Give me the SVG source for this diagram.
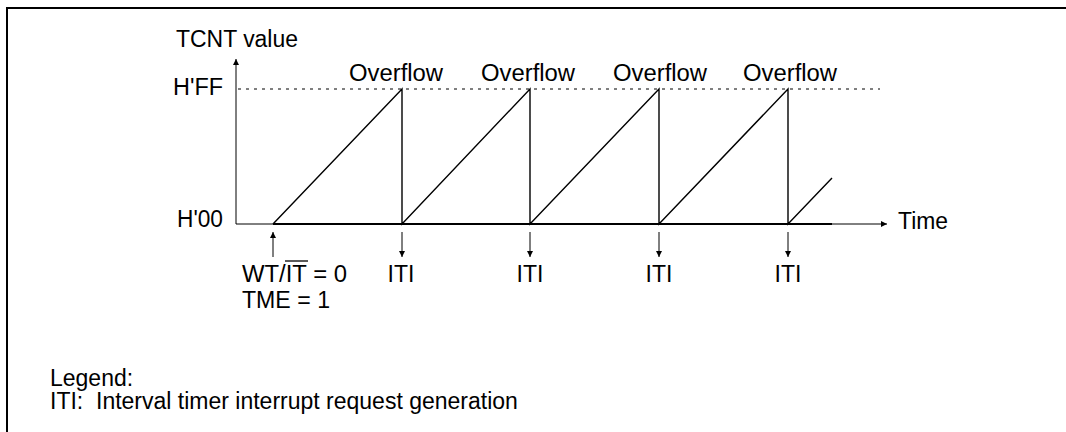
<svg xmlns="http://www.w3.org/2000/svg" width="1066" height="432" viewBox="0 0 1066 432">
<style>
text{font-family:"Liberation Sans",Arial,sans-serif;font-size:23px;fill:#000}
.ax{stroke:#000;stroke-width:1;fill:none}
.rp{stroke:#000;stroke-width:1.4;fill:none}
.ar{stroke:#000;stroke-width:1;fill:none}
</style>
<defs>
<marker id="ah" viewBox="0 0 10 10" refX="10" refY="5" markerWidth="9" markerHeight="6" markerUnits="userSpaceOnUse" orient="auto"><path d="M0,0 L10,5 L0,10 Z" fill="#000"/></marker>
</defs>
<rect width="1066" height="432" fill="#fff"/>
<path d="M7,432 V8 H1066" fill="none" stroke="#000" stroke-width="2"/>
<g id="axes">
<line class="ax" x1="236" y1="224" x2="236" y2="59" marker-end="url(#ah)"/>
<line class="ax" x1="236" y1="224" x2="887" y2="224" marker-end="url(#ah)"/>
<line x1="238" y1="89" x2="880" y2="89" stroke="#000" stroke-width="1" stroke-dasharray="3 5"/>
<text x="176" y="47" textLength="122" lengthAdjust="spacingAndGlyphs">TCNT value</text>
<text x="173" y="95" textLength="50" lengthAdjust="spacingAndGlyphs">H'FF</text>
<text x="177" y="227" textLength="46" lengthAdjust="spacingAndGlyphs">H'00</text>
<text x="898" y="229" textLength="50" lengthAdjust="spacingAndGlyphs">Time</text>
</g>
<g id="connectors">
<path d="M273,224 H832" stroke="#000" stroke-width="2" fill="none"/>
<path class="rp" d="M273,224 L402,89 V224 L530,89 V224 L659,89 V224 L788,89 V224 L832,178"/>
<line class="ar" x1="273" y1="257" x2="273" y2="232" marker-end="url(#ah)"/>
<line class="ar" x1="402" y1="232" x2="402" y2="257" marker-end="url(#ah)"/>
<line class="ar" x1="530" y1="232" x2="530" y2="257" marker-end="url(#ah)"/>
<line class="ar" x1="659" y1="232" x2="659" y2="257" marker-end="url(#ah)"/>
<line class="ar" x1="788" y1="232" x2="788" y2="257" marker-end="url(#ah)"/>
</g>
<g id="overflow-labels">
<text x="349" y="81" textLength="94" lengthAdjust="spacingAndGlyphs">Overflow</text>
<text x="481" y="81" textLength="94" lengthAdjust="spacingAndGlyphs">Overflow</text>
<text x="613" y="81" textLength="94" lengthAdjust="spacingAndGlyphs">Overflow</text>
<text x="743" y="81" textLength="94" lengthAdjust="spacingAndGlyphs">Overflow</text>
</g>
<g id="iti-labels">
<text x="401" y="282" text-anchor="middle">ITI</text>
<text x="530" y="282" text-anchor="middle">ITI</text>
<text x="659" y="282" text-anchor="middle">ITI</text>
<text x="788" y="282" text-anchor="middle">ITI</text>
</g>
<g id="start-label">
<text x="242" y="282" textLength="105" lengthAdjust="spacingAndGlyphs">WT/IT = 0</text>
<line x1="285" y1="261" x2="308" y2="261" stroke="#000" stroke-width="1.3"/>
<text x="242" y="308" textLength="88" lengthAdjust="spacingAndGlyphs">TME = 1</text>
</g>
<g id="legend">
<text x="50" y="386">Legend:</text>
<text x="50" y="409" xml:space="preserve">ITI:  Interval timer interrupt request generation</text>
</g>
</svg>
